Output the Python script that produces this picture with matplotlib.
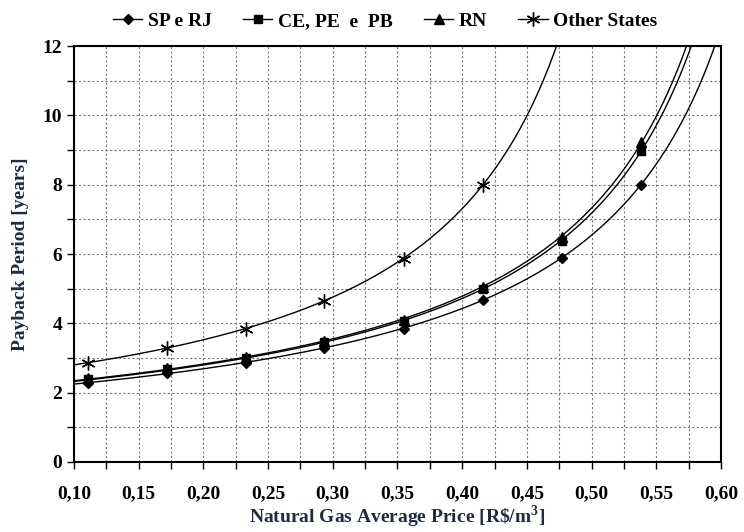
import matplotlib
matplotlib.use("Agg")
import matplotlib.pyplot as plt
import numpy as np
from matplotlib.ticker import MultipleLocator, FuncFormatter

# precio medio del gas natural [R$/m3]
precio = [0.111, 0.172, 0.233, 0.293, 0.355, 0.416, 0.477, 0.538]
precio_otros = [0.111, 0.172, 0.233, 0.293, 0.355, 0.416]

# payback [años]
sp_rj = [2.29, 2.57, 2.86, 3.30, 3.85, 4.66, 5.89, 8.00]
ce_pe_pb = [2.38, 2.67, 3.00, 3.45, 4.07, 4.98, 6.37, 8.98]
rn = [2.42, 2.70, 3.03, 3.49, 4.10, 5.04, 6.48, 9.22]
otros = [2.86, 3.30, 3.85, 4.65, 5.87, 8.00]

etiquetas = ["SP e RJ", "CE, PE  e  PB", "RN", "Other States"]

plt.rcParams['font.family'] = 'Liberation Serif'
plt.rcParams['font.weight'] = 'bold'
plt.rcParams['mathtext.fontset'] = 'custom'
plt.rcParams['mathtext.rm'] = 'Liberation Serif:bold'


def ajuste_hiperbola(x, y):
    """Ajusta y = A/(B - x) linealizando 1/y = B/A - x/A (pesos ~ y^1.5)."""
    y = np.array(y)
    m, c = np.polyfit(x, 1.0 / y, 1, w=y ** 1.5)
    A = -1.0 / m
    B = c * A
    return A, B


fig = plt.figure(figsize=(7.44, 5.32), dpi=100)
ax = fig.add_axes([0.0995, 0.1316, 0.8695, 0.7819])

series = [
    (precio, sp_rj, "D", 5.5),
    (precio, ce_pe_pb, "s", 6),
    (precio, rn, "^", 6.5),
    (precio_otros, otros, (6, 2, 0), 10),
]

for (xs, ys, mk, ms), lab in zip(series, etiquetas):
    A, B = ajuste_hiperbola(xs, ys)
    x_fin = B - A / 12.5
    xx = np.linspace(0.10, x_fin, 300)
    ax.plot(xx, A / (B - xx), color="black", lw=1.0, zorder=3)
    ax.plot(xs, ys, linestyle="none", marker=mk, markersize=ms, color="black",
            markeredgewidth=1.0, zorder=4)
    # entrada para la leyenda
    ax.plot([], [], color="black", lw=1.0, marker=mk, markersize=ms, label=lab)

ax.set_xlim(0.10, 0.60)
ax.set_ylim(0, 12)
ax.xaxis.set_major_locator(MultipleLocator(0.05))
ax.xaxis.set_minor_locator(MultipleLocator(0.025))
ax.yaxis.set_major_locator(MultipleLocator(2))
ax.yaxis.set_minor_locator(MultipleLocator(1))
ax.xaxis.set_major_formatter(FuncFormatter(lambda v, p: f"{v:.2f}".replace(".", ",")))

ax.grid(which="both", linestyle=(0, (2, 2)), color="#777777", lw=0.8)
ax.set_axisbelow(True)
ax.tick_params(which="both", direction="out", length=5, width=1.0, labelsize=14)
ax.tick_params(axis="x", pad=12)
for s in ax.spines.values():
    s.set_linewidth(1.5)

ax.set_xlabel(r"Natural Gas Average Price [R\$/m$^{3}$]", fontsize=14, fontweight="bold",
              color="#1f2a44")
ax.xaxis.set_label_coords(0.5, -0.1)
ax.set_ylabel("Payback Period [years]", fontsize=14, fontweight="bold",
              color="#1f2a44", labelpad=10)

fig.legend(loc="upper center", bbox_to_anchor=(0.518, 1.01), ncol=4, frameon=False,
           fontsize=14, handlelength=1.5, handletextpad=0.3, columnspacing=1.6)

fig.savefig("out.png", dpi=100)
